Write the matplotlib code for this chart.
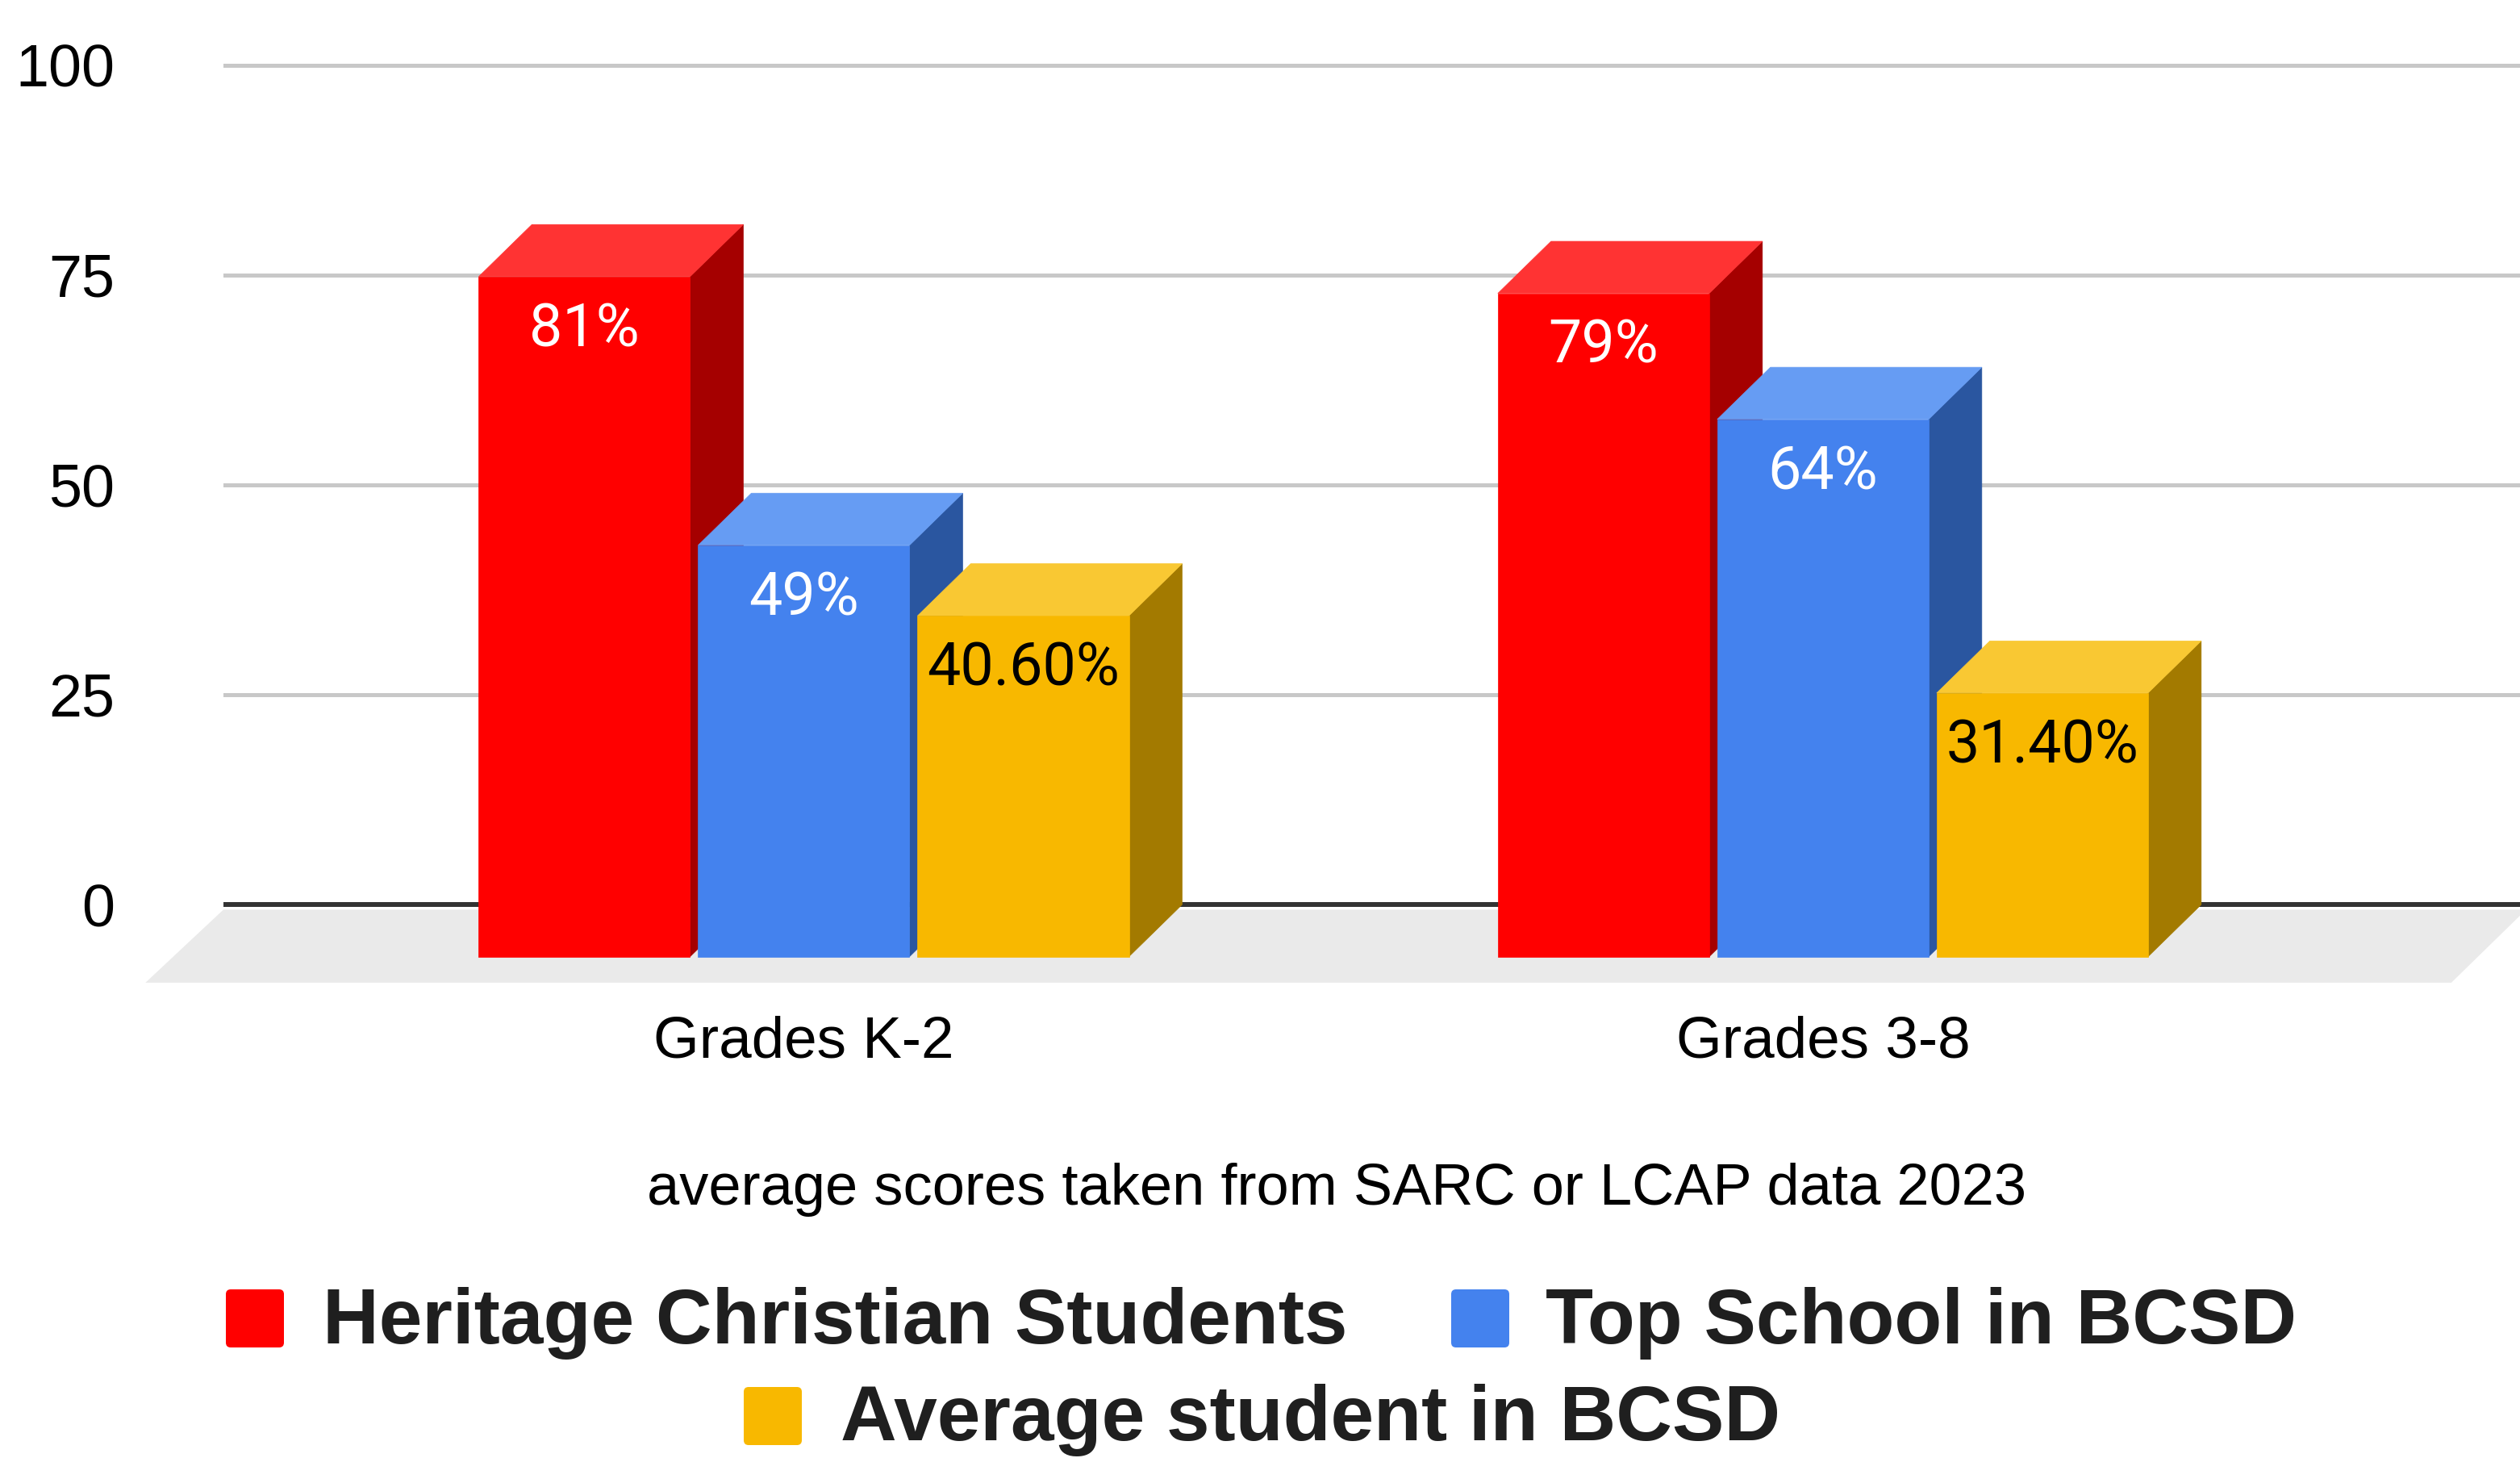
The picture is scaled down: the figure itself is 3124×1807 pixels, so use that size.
import matplotlib
matplotlib.use("Agg")
import matplotlib.pyplot as plt
from matplotlib.patches import Polygon, FancyBboxPatch
from matplotlib.transforms import IdentityTransform, ScaledTranslation

categories = ["Grades K-2", "Grades 3-8"]
series_names = ["Heritage Christian Students", "Top School in BCSD", "Average student in BCSD"]
heritage = [81, 79]
top_school = [49, 64]
average_student = [40.6, 31.4]
value_labels = [["81%", "79%"], ["49%", "64%"], ["40.60%", "31.40%"]]
subtitle = "average scores taken from SARC or LCAP data 2023"

series = [heritage, top_school, average_student]
# front, top, side, label colour
colors = [
    ("#FF0000", "#FF3333", "#A50000", "white"),
    ("#4482EE", "#669CF3", "#2A56A0", "white"),
    ("#F8B800", "#F9C833", "#A37A00", "black"),
]

W, H = 3124, 1807
fig = plt.figure(figsize=(W / 100, H / 100), dpi=100)
fig.patch.set_facecolor("white")

ax = fig.add_axes([277 / W, 1 - 1246 / H, 1 - 277 / W, (1246 - 2.5) / H])
ax.set_xlim(-0.5695, 1.684)
ax.set_ylim(-12, 107.5)
for s in ax.spines.values():
    s.set_visible(False)

# gridlines + baseline
ax.set_yticks([0, 25, 50, 75, 100])
ax.set_yticklabels(["0", "25", "50", "75", "100"], family="Liberation Sans", fontsize=53, color="black")
# nudge the tick labels up a little, like the original
up = ScaledTranslation(0, 4 / 100, fig.dpi_scale_trans)
for lbl in ax.get_yticklabels():
    lbl.set_transform(lbl.get_transform() + up)
ax.yaxis.grid(True, color="#C8C8C8", linewidth=3.6)
ax.set_axisbelow(True)
ax.axhline(0, color="#333333", linewidth=4.3, zorder=1.5)
ax.tick_params(axis="y", length=0, pad=97)

ax.set_xticks(range(len(categories)))
ax.set_xticklabels(categories, family="Liberation Sans", fontsize=52.5, color="black")
ax.tick_params(axis="x", length=0, pad=9)

# floor of the 3d plot area
x_left, x_right = ax.get_xlim()
floor = Polygon([(x_left, -0.6), (1.69, -0.6), (1.6166, -9.3), (-0.646, -9.3)],
                closed=True, facecolor="#EAEAEA", edgecolor="none", zorder=1, clip_on=False)
ax.add_patch(floor)

bar_w = 0.2074
step = 0.2153
dx = 0.0522   # depth in x (data units)
dy = 6.2      # depth in y (data units)

for i, vals in enumerate(series):
    front_c, top_c, side_c, lab_c = colors[i]
    z = 3 + i
    for g, v in enumerate(vals):
        x0 = g + (i - 1) * step - bar_w / 2
        x1 = x0 + bar_w
        yb = -dy
        yt = v - dy
        side = Polygon([(x1, yt), (x1 + dx, v), (x1 + dx, 0), (x1, yb)],
                       closed=True, facecolor=side_c, edgecolor=side_c, linewidth=0.5, zorder=z)
        top = Polygon([(x0, yt), (x1, yt), (x1 + dx, v), (x0 + dx, v)],
                      closed=True, facecolor=top_c, edgecolor=top_c, linewidth=0.5, zorder=z)
        front = Polygon([(x0, yb), (x1, yb), (x1, yt), (x0, yt)],
                        closed=True, facecolor=front_c, edgecolor=front_c, linewidth=0.5, zorder=z)
        ax.add_patch(side)
        ax.add_patch(top)
        ax.add_patch(front)
        ax.text((x0 + x1) / 2, yt - 8.3, value_labels[i][g], ha="center", va="baseline",
                fontsize=53, family="Roboto", color=lab_c, zorder=z + 0.5)

# subtitle
fig.text(1657 / W, 1 - 1493 / H, subtitle, ha="center", va="baseline",
         fontsize=52, family="Liberation Sans", color="black")

# legend, laid out like the original (two centred rows)
legend_items = [
    (280, 1598, 400, 1665),
    (1799, 1598, 1916, 1665),
    (922, 1719, 1042, 1785),
]
for (sx, sy, tx, ty), name, c in zip(legend_items, series_names, colors):
    sq = FancyBboxPatch((sx, H - sy - 72), 72, 72, boxstyle="round,pad=0,rounding_size=6",
                        facecolor=c[0], edgecolor="none", transform=IdentityTransform())
    fig.add_artist(sq)
    fig.text(tx / W, 1 - ty / H, name, ha="left", va="baseline", fontsize=69.5,
             fontweight="bold", family="Liberation Sans", color="#1F1F1F")

fig.savefig("out.png", dpi=100, facecolor="white")
